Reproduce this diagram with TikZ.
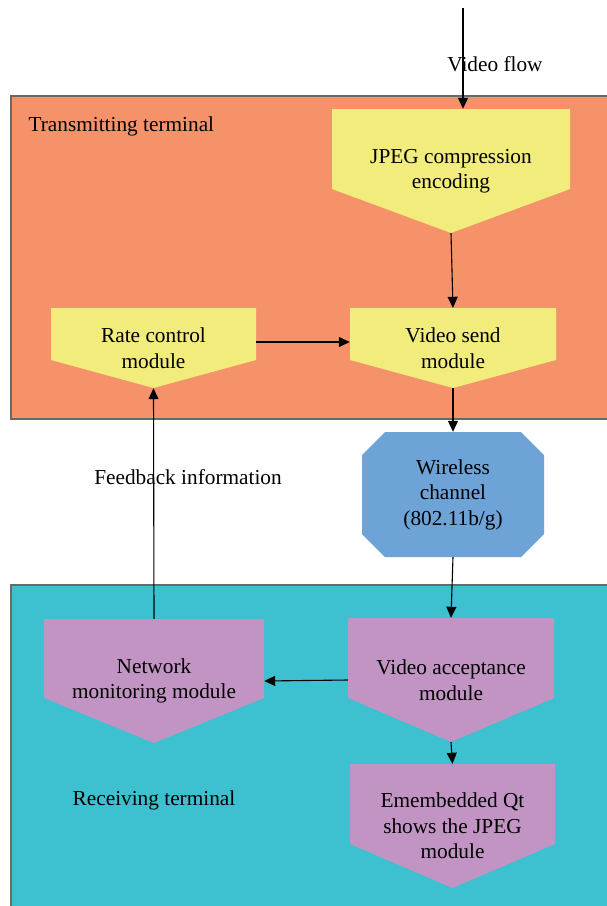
\documentclass[tikz,border=0pt]{standalone}
\usepackage{fontspec}
\setmainfont{Liberation Serif}
\usetikzlibrary{arrows.meta,calc}

\definecolor{sendbg}{RGB}{245,146,106}
\definecolor{recvbg}{RGB}{61,192,207}
\definecolor{yellowbox}{RGB}{241,236,123}
\definecolor{pinkbox}{RGB}{194,148,195}
\definecolor{chanblue}{RGB}{109,163,215}
\definecolor{frame}{RGB}{105,105,105}

\tikzset{
  pentbox/.style n args={4}{minimum width=#1, minimum height=#2, inner sep=0pt, align=center,
    path picture={\fill[#4] (path picture bounding box.north west) -- (path picture bounding box.north east)
      -- ([yshift=#3]path picture bounding box.south east) -- (path picture bounding box.south)
      -- ([yshift=#3]path picture bounding box.south west) -- cycle;}},
  chanbox/.style n args={3}{minimum width=#1, minimum height=#2, inner sep=0pt, align=center,
    path picture={\fill[chanblue] ([xshift=#3]path picture bounding box.north west)
      -- ([xshift=-#3]path picture bounding box.north east) -- ([yshift=-#3]path picture bounding box.north east)
      -- ([yshift=#3]path picture bounding box.south east) -- ([xshift=-#3]path picture bounding box.south east)
      -- ([xshift=#3]path picture bounding box.south west) -- ([yshift=#3]path picture bounding box.south west)
      -- ([yshift=-#3]path picture bounding box.north west) -- cycle;}},
  flow/.style={->, line width=1.1pt},
  termbox/.style={draw=frame, line width=1.4pt},
}

\begin{document}
\begin{tikzpicture}[x=1pt, y=-1pt, >={Triangle[length=11pt,width=10pt]},
    font=\fontsize{21.3}{25.5}\selectfont]
    \useasboundingbox (0,0) rectangle (607,906);
    \clip (0,0) rectangle (607,906);

    % 发送端
    \draw[termbox, fill=sendbg] (11,96) rectangle (630,419);
    \node[anchor=west] (sendlabel) at (25,126) {Transmitting terminal};

    % 接收端
    \draw[termbox, fill=recvbg] (11,585) rectangle (630,930);
    \node (recvlabel) at (154,800) {Receiving terminal};

    % 模块
    \node[pentbox={238pt}{124pt}{44pt}{yellowbox}] (jpeg) at (451,171) {JPEG compression\\encoding};
    \node[pentbox={205pt}{80pt}{28pt}{yellowbox}] (rate) at (153.5,348) {Rate control\\module};
    \node[pentbox={206pt}{80pt}{28pt}{yellowbox}] (vsend) at (453,348) {Video send\\module};
    \node[chanbox={182pt}{125pt}{23pt}] (chan) at (453,494.5) {Wireless\\channel\\(802.11b/g)};
    \node[pentbox={220pt}{124pt}{45pt}{pinkbox}] (netmon) at (154,681) {Network\\monitoring module};
    \node[pentbox={206pt}{124pt}{44pt}{pinkbox}] (vacc) at (451,680) {Video acceptance\\module};
    \node[pentbox={205pt}{124pt}{44pt}{pinkbox}] (qtshow) at (452.5,826) {Emembedded Qt\\shows the JPEG\\module};

    % 视频流
    \coordinate (flowtop) at (463,8);
    \draw[flow] (flowtop) -- (flowtop |- jpeg.north);
    \node (flowlabel) at (495,64) {Video flow};

    % 连线
    \draw[flow] (jpeg.south) -- (vsend.north);
    \draw[flow] ([yshift=6pt]rate.east) -- ([yshift=6pt]vsend.west);
    \draw[flow] (vsend.south) -- (chan.north);
    \draw[flow] (chan.south) -- (vacc.north);
    \draw[flow] (vacc.west) -- (netmon.east);
    \draw[flow] (vacc.south) -- (qtshow.north);

    % 反馈
    \draw[flow] (netmon.north) -- (rate.south);
    \node (fblabel) at (188,477) {Feedback information};
\end{tikzpicture}
\end{document}
